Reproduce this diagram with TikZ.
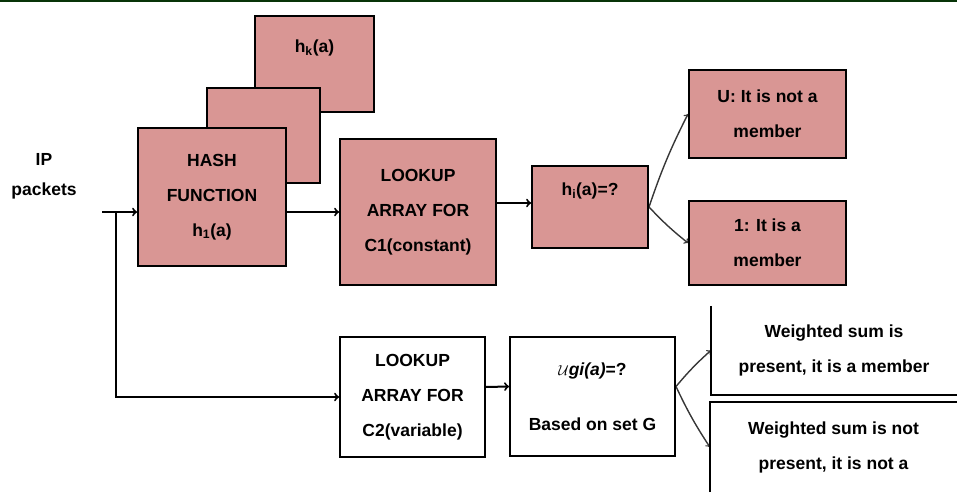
\documentclass[tikz,border=0pt]{standalone}
\usepackage{fontspec}
\setmainfont{Liberation Sans}
\usepackage{amssymb}
\usepackage{tikz}
\usetikzlibrary{arrows,positioning,calc}
\pgfdeclarelayer{edgelayer}
\pgfdeclarelayer{nodelayer}
\pgfsetlayers{edgelayer,nodelayer,main}
\definecolor{rosebox}{RGB}{217,150,148}
\definecolor{rulegreen}{RGB}{8,52,8}
\definecolor{tipgray}{RGB}{55,55,55}
\tikzset{font=\fontsize{17.5}{35}\selectfont\bfseries}
\tikzstyle{none}=[inner sep=0pt]
\tikzstyle{stage}=[rectangle,fill=rosebox,draw=black,line width=2pt,inner sep=0pt,align=center]
\tikzstyle{plainstage}=[rectangle,fill=white,draw=black,line width=2pt,inner sep=0pt,align=center]
\tikzstyle{verdict}=[rectangle,inner sep=0pt,align=center]
\tikzstyle{feed}=[->, >=to, line width=2pt, draw=black]
\tikzstyle{branch}=[->, >=to, line width=1.4pt, draw=tipgray]
\tikzstyle{simple}=[-, draw=black, line width=2pt]
\tikzstyle{topline}=[-, draw=rulegreen, line width=2.5pt]

\begin{document}
\begin{tikzpicture}[x=1pt,y=-1pt]
	\useasboundingbox (0,0) rectangle (957,492);
	\begin{pgfonlayer}{nodelayer}
		\node [style=stage, minimum width=119, minimum height=96] (hk) at (314.5,64) {h\textsubscript{k}(a)\\ \mbox{}};
		\node [style=stage, minimum width=113, minimum height=95] (hmid) at (263.5,135.5) {};
		\node [style=stage, minimum width=148, minimum height=138] (hash) at (212,197) {HASH\\FUNCTION\\h\textsubscript{1}(a)};
		\node [style=stage, minimum width=156, minimum height=146] (lookA) at (418,212) {LOOKUP\\ARRAY FOR\\C1(constant)};
		\node [style=stage, minimum width=116, minimum height=82] (hi) at (590,207) {h\textsubscript{i}(a)=?\\ \mbox{}};
		\node [style=stage, minimum width=157, minimum height=88] (notmem) at (767.5,114) {U: It is not a\\member};
		\node [style=stage, minimum width=157, minimum height=84] (mem) at (767.5,243) {1: It is a\\member};
		\node [style=plainstage, minimum width=145, minimum height=120] (lookB) at (412.5,397) {LOOKUP\\ARRAY FOR\\C2(variable)};
		\node [style=plainstage, minimum width=165, minimum height=119] (gset) at (592.5,396.5) {{\Large$\mathcal{U}$}\textit{gi(a)}=?\\[20pt]Based on set G};
		\node [style=verdict, minimum width=246, minimum height=89] (wsum) at (834,350.5) {Weighted sum is\\present, it is a member};
		\node [style=verdict, minimum width=247, minimum height=90] (wnot) at (833.5,447) {Weighted sum is not\\present, it is not a};
		\node [style=none, align=center] (ip) at (44,176) {IP\\[-5pt]packets};
		\coordinate (src) at (102,212);
		\coordinate (split) at (116,212);
		\coordinate (tl) at (0,1);
		\coordinate (tr) at (957,1);
	\end{pgfonlayer}
	\begin{pgfonlayer}{edgelayer}
		\draw [style=topline] (tl) to (tr);
		\draw [style=feed] (src) to (src -| hash.west);
		\draw [style=feed] (split) |- (lookB.west);
		\draw [style=feed] (hash.east |- lookA) to (lookA);
		\draw [style=feed] ([yshift=4pt]lookA.east |- hi) to ([yshift=4pt]hi.west);
		\draw [style=branch, bend left=4] (hi.east) to (notmem.west);
		\draw [style=branch, bend right=4] (hi.east) to (mem.west);
		\draw [style=feed] ([yshift=10pt]lookB.east) to ([yshift=10pt]gset.west);
		\draw [style=branch, bend left=4] ([yshift=10pt]gset.east) to (wsum.west);
		\draw [style=branch, bend right=4] ([yshift=10pt]gset.east) to (wnot.west);
		\draw [style=simple] (wsum.north west) -- (wsum.south west) -- (wsum.south east);
		\draw [style=simple] (wnot.south west) -- (wnot.north west) -- (wnot.north east);
	\end{pgfonlayer}
\end{tikzpicture}
\end{document}
